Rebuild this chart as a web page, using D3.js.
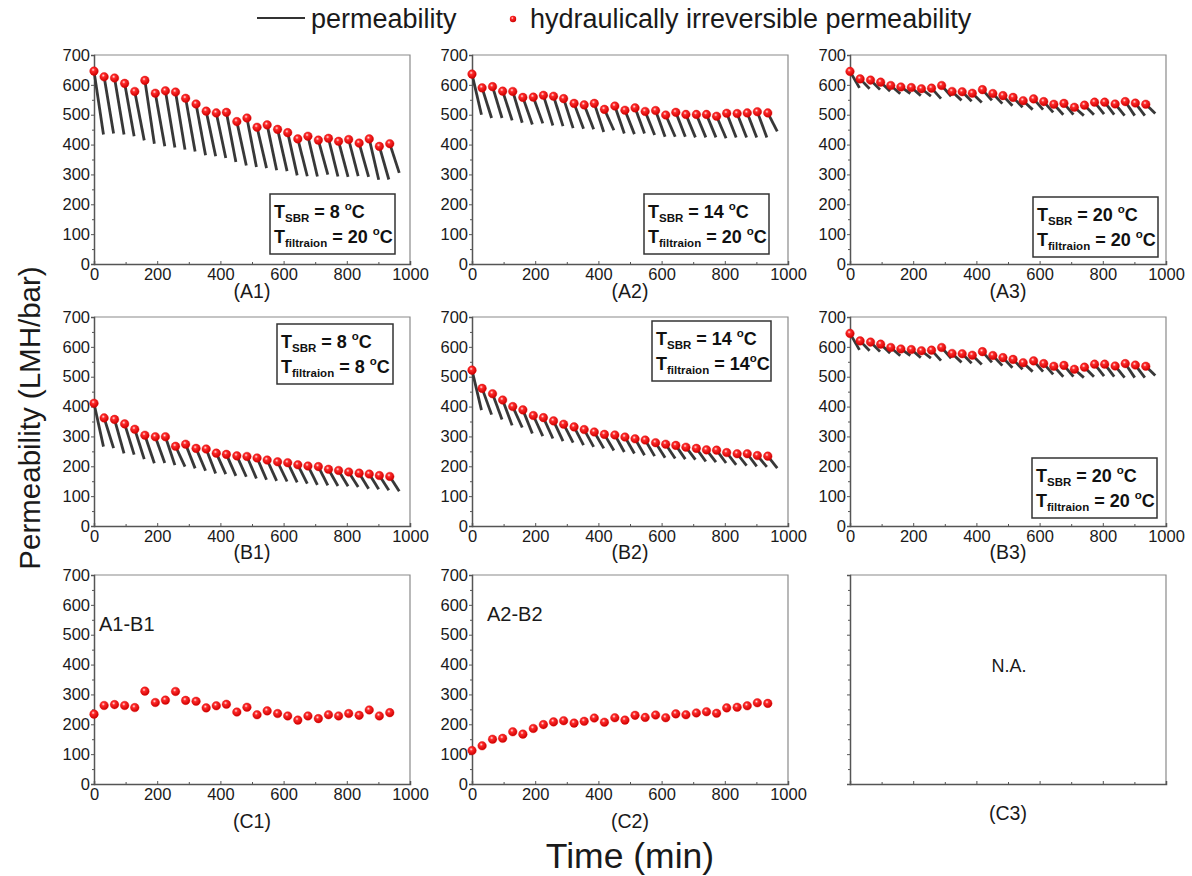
<!DOCTYPE html>
<meta charset="utf-8">
<script src="https://d3js.org/d3.v7.min.js"></script>
<style>
  body { margin: 0; background: #fff; }
  text { font-family: "Liberation Sans", Arial, sans-serif; }
</style>
<svg width="1192" height="876"></svg>

<script>
// start time of each filtration cycle (min)
var times = [0, 32, 65, 97, 129, 161, 194, 226, 258, 290, 323, 355, 387, 419, 452,
             484, 516, 548, 581, 613, 645, 677, 710, 742, 774, 806, 839, 871, 903, 936];
var cycleLen = 30;

// hydraulically irreversible permeability (start of each cycle)
var a1Dots = [646, 627, 623, 605, 578, 615, 572, 580, 576, 555, 536, 512, 506, 508, 477,
              489, 458, 466, 451, 440, 419, 428, 415, 421, 411, 417, 405, 419, 394, 403];
var a2Dots = [636, 590, 594, 579, 578, 558, 559, 565, 562, 554, 538, 533, 538, 518, 529,
              515, 523, 511, 514, 499, 508, 501, 501, 501, 495, 505, 504, 506, 510, 506];
var a3Dots = [645, 620, 616, 609, 598, 593, 591, 587, 589, 598, 578, 577, 572, 584, 571,
              564, 558, 547, 553, 544, 535, 538, 525, 532, 542, 542, 536, 544, 539, 535];
var b1Dots = [411, 362, 357, 342, 324, 304, 299, 299, 267, 274, 260, 258, 244, 240, 235,
              233, 228, 221, 215, 212, 205, 201, 199, 190, 186, 181, 177, 174, 169, 166];
var b2Dots = [522, 461, 443, 422, 400, 389, 370, 363, 352, 341, 332, 323, 315, 307, 305,
              298, 292, 288, 279, 274, 270, 264, 260, 255, 254, 246, 242, 242, 236, 234];
var c1Dots = [234, 263, 266, 263, 256, 311, 273, 281, 310, 280, 277, 255, 262, 267, 241,
              257, 232, 245, 236, 228, 214, 228, 219, 232, 228, 236, 230, 248, 228, 239];
var c2Dots = [112, 128, 150, 153, 175, 167, 186, 199, 208, 212, 204, 210, 221, 207, 222,
              214, 230, 223, 231, 222, 235, 232, 238, 242, 237, 255, 257, 262, 272, 270];

// permeability at end of each cycle
var a1Ends = [434, 437, 434, 428, 414, 403, 394, 390, 383, 377, 364, 361, 355, 342, 330,
              325, 321, 314, 311, 297, 294, 293, 299, 293, 292, 294, 292, 282, 283, 305];
var a2Ends = [500, 489, 489, 481, 473, 467, 471, 464, 462, 455, 453, 451, 442, 448, 437,
              435, 437, 432, 426, 426, 426, 424, 424, 424, 421, 424, 424, 424, 424, 444];
var a3Ends = [590, 587, 584, 579, 570, 571, 564, 562, 554, 562, 548, 545, 541, 548, 537,
              530, 525, 517, 517, 508, 500, 500, 497, 500, 502, 500, 497, 497, 497, 504];
var b1Ends = [266, 261, 243, 239, 224, 210, 211, 204, 199, 193, 185, 176, 174, 168, 165,
              159, 155, 151, 149, 146, 142, 138, 136, 134, 133, 131, 125, 123, 120, 116];
var b2Ends = [388, 373, 357, 337, 330, 310, 301, 293, 284, 279, 271, 265, 260, 253, 248,
              243, 237, 234, 229, 226, 224, 222, 216, 214, 211, 205, 202, 200, 198, 194];

var xTicks = [0, 200, 400, 600, 800, 1000];
var xMinor = [100, 300, 500, 700, 900];
var yTicks = [0, 100, 200, 300, 400, 500, 600, 700];
var yMinor = [50, 150, 250, 350, 450, 550, 650];

var panels = [
  { name: "(A1)", col: 0, row: 0, dots: a1Dots, ends: a1Ends, box: [176, 139, 125], sbr: "8", filt: "20 " },
  { name: "(A2)", col: 1, row: 0, dots: a2Dots, ends: a2Ends, box: [172, 139, 125], sbr: "14", filt: "20 " },
  { name: "(A3)", col: 2, row: 0, dots: a3Dots, ends: a3Ends, box: [183, 142, 125], sbr: "20", filt: "20 " },
  { name: "(B1)", col: 0, row: 1, dots: b1Dots, ends: b1Ends, box: [183, 7, 116], sbr: "8", filt: "8 " },
  { name: "(B2)", col: 1, row: 1, dots: b2Dots, ends: b2Ends, box: [180, 4, 119], sbr: "14", filt: "14" },
  { name: "(B3)", col: 2, row: 1, dots: a3Dots, ends: a3Ends, box: [182, 141, 125], sbr: "20", filt: "20 " },
  { name: "(C1)", col: 0, row: 2, dots: c1Dots, note: "A1-B1" },
  { name: "(C2)", col: 1, row: 2, dots: c2Dots, note: "A2-B2" },
  { name: "(C3)", col: 2, row: 2, empty: true }
];

var colX = [94, 472, 850], rowY = [55, 317, 575];
var nameDy = [34, 33, 44];
var pw = 316, ph = 209;

var svg = d3.select("svg");

var defs = svg.append("defs");
var grad = defs.append("radialGradient").attr("id", "ball")
  .attr("cx", "40%").attr("cy", "35%").attr("r", "65%");
grad.append("stop").attr("offset", "0%").attr("stop-color", "#ffe6e6");
grad.append("stop").attr("offset", "30%").attr("stop-color", "#ff2a2a");
grad.append("stop").attr("offset", "100%").attr("stop-color", "#cc0000");

panels.forEach(function (p) {
  var g = svg.append("g")
    .attr("transform", "translate(" + colX[p.col] + "," + rowY[p.row] + ")");

  var x = d3.scaleLinear().domain([0, 1000]).range([0, pw]);
  var y = d3.scaleLinear().domain([0, 700]).range([ph, 0]);

  // frame (top/right lighter)
  g.append("path").attr("d", "M0,0H" + pw + "V" + ph)
    .attr("fill", "none").attr("stroke", "#8a8a8a").attr("stroke-width", 1.2);

  g.append("g").attr("transform", "translate(0," + ph + ")")
    .call(d3.axisBottom(x).tickValues(xTicks).tickSize(-3).tickPadding(4)
      .tickFormat(p.empty ? "" : d3.format("d")));
  g.append("g").attr("transform", "translate(0," + ph + ")")
    .call(d3.axisBottom(x).tickValues(xMinor).tickSize(-2).tickFormat(""))
    .select(".domain").remove();

  g.append("g")
    .call(d3.axisLeft(y).tickValues(yTicks).tickSize(3).tickPadding(1)
      .tickFormat(p.empty ? "" : d3.format("d")));
  g.append("g")
    .call(d3.axisLeft(y).tickValues(yMinor).tickSize(2).tickFormat(""))
    .select(".domain").remove();

  g.selectAll(".domain").attr("stroke", "#555").attr("stroke-width", 1.5);
  g.selectAll(".tick line").attr("stroke", "#555");
  g.selectAll(".tick text").attr("font-size", 16.5).attr("fill", "#1a1a1a")
    .attr("font-family", "'Liberation Sans', Arial, sans-serif");

  // panel label
  g.append("text").attr("x", pw / 2).attr("y", ph + (p.empty ? 36 : nameDy[p.row]))
    .attr("text-anchor", "middle").attr("font-size", 19.5).attr("fill", "#1a1a1a")
    .text(p.name);

  if (p.empty) {
    g.append("text").attr("x", pw / 2 + 1).attr("y", 97)
      .attr("text-anchor", "middle").attr("font-size", 18).attr("fill", "#1a1a1a")
      .text("N.A.");
    return;
  }

  // permeability cycles
  if (p.ends) {
    var line = d3.line().x(function (d) { return x(d[0]); }).y(function (d) { return y(d[1]); });
    g.selectAll("path.cyc")
      .data(times.map(function (t, i) { return [[t, p.dots[i]], [t + cycleLen, p.ends[i]]]; }))
      .enter().append("path").attr("class", "cyc")
      .attr("d", line)
      .attr("fill", "none").attr("stroke", "#383838").attr("stroke-width", 2.8);
  }

  // irreversible permeability
  g.selectAll("circle")
    .data(times.map(function (t, i) { return [t, p.dots[i]]; }))
    .enter().append("circle")
    .attr("cx", function (d) { return x(d[0]); })
    .attr("cy", function (d) { return y(d[1]); })
    .attr("r", 4.3)
    .attr("fill", "url(#ball)")
    .attr("stroke", "#e00000").attr("stroke-width", 0.4);

  if (p.note) {
    g.append("text").attr("x", p.col === 0 ? 5 : 15).attr("y", p.col === 0 ? 56 : 46)
      .attr("font-size", 20).attr("fill", "#1a1a1a").text(p.note);
  }

  if (p.box) {
    var b = g.append("g").attr("transform", "translate(" + p.box[0] + "," + p.box[1] + ")");
    b.append("rect").attr("width", p.box[2]).attr("height", 60)
      .attr("fill", "#fff").attr("stroke", "#333").attr("stroke-width", 1.5);
    var t1 = b.append("text").attr("x", 4).attr("y", 24)
      .attr("font-size", 18).attr("font-weight", "bold").attr("fill", "#111");
    t1.append("tspan").text("T");
    t1.append("tspan").attr("font-size", 11.5).attr("dy", 4).text("SBR");
    t1.append("tspan").attr("dy", -4).text(" = " + p.sbr + " ");
    t1.append("tspan").attr("font-size", 11.5).attr("dy", -8).text("o");
    t1.append("tspan").attr("dy", 8).text("C");
    var t2 = b.append("text").attr("x", 4).attr("y", 49)
      .attr("font-size", 18).attr("font-weight", "bold").attr("fill", "#111");
    t2.append("tspan").text("T");
    t2.append("tspan").attr("font-size", 11.5).attr("dy", 4).text("filtraion");
    t2.append("tspan").attr("dy", -4).text(" = " + p.filt);
    t2.append("tspan").attr("font-size", 11.5).attr("dy", -8).text("o");
    t2.append("tspan").attr("dy", 8).text("C");
  }
});

// legend
var leg = svg.append("g");
leg.append("line").attr("x1", 257).attr("x2", 305).attr("y1", 18).attr("y2", 18)
  .attr("stroke", "#333").attr("stroke-width", 2);
leg.append("text").attr("x", 311).attr("y", 28).attr("font-size", 27).attr("fill", "#1a1a1a")
  .text("permeability");
leg.append("circle").attr("cx", 513).attr("cy", 19).attr("r", 3.2).attr("fill", "url(#ball)");
leg.append("text").attr("x", 530).attr("y", 28).attr("font-size", 27).attr("fill", "#1a1a1a")
  .text("hydraulically irreversible permeability");

// axis titles
svg.append("text").attr("transform", "translate(40,418) rotate(-90)")
  .attr("text-anchor", "middle").attr("font-size", 29.5).attr("fill", "#1a1a1a")
  .text("Permeability (LMH/bar)");
svg.append("text").attr("x", 630).attr("y", 868)
  .attr("text-anchor", "middle").attr("font-size", 35.5).attr("fill", "#1a1a1a")
  .text("Time (min)");
</script>
